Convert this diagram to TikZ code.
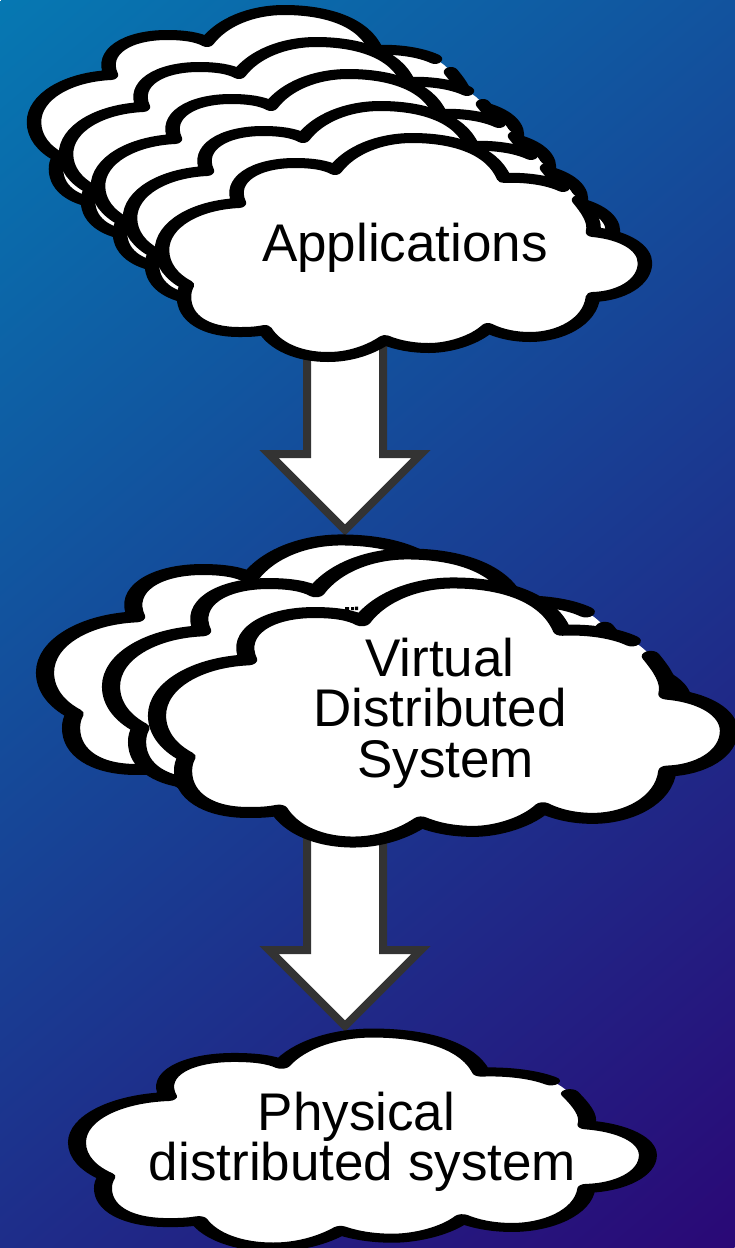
\documentclass[tikz,border=0pt]{standalone}
\usepackage{fontspec}
\setmainfont{Liberation Sans}
\usetikzlibrary{shapes.arrows}
\definecolor{bgstart}{RGB}{6,120,178}
\definecolor{bgend}{RGB}{42,8,118}
\definecolor{arrowline}{RGB}{51,51,51}
\pgfdeclarehorizontalshading{bgshade}{3000pt}{color(0pt)=(bgstart); color(1428pt)=(bgend)}
\tikzset{
  cloudfill/.style={fill=white,draw=none},
  cloudline/.style={draw=black,line width=#1,line join=round,line cap=round},
  blockarrow/.style={single arrow,draw=arrowline,fill=white,line width=8pt,
    minimum width=152pt,single arrow head extend=38pt,single arrow head indent=0pt,
    single arrow tip angle=90,inner sep=34pt,outer sep=0pt,shape border rotate=270,anchor=tip},
  cloudlabel/.style={inner sep=0pt,outer sep=0pt,align=center,text=black,
    font=\fontsize{53}{50.5}\selectfont}
}
% dx dy sx sy linewidth stretch
\newcommand{\cloudshape}[6]{%
  \begin{scope}[transform canvas={xscale=#6},shift={(#1/#6,#2)},xscale=#3/#6,yscale=#4]
    \path[cloudfill] (239,203)
      .. controls (228,180) and (255,163) .. (295,163)
      .. controls (312,163) and (326,165) .. (335,170)
      .. controls (350,150) and (380,138) .. (412,138)
      .. controls (455,138) and (492,150) .. (504,178)
      .. controls (525,177) and (548,180) .. (563,187)
      .. controls (569,190) and (575,195) .. (579,200)
      .. controls (588,211) and (596,222) .. (593,232)
      .. controls (625,235) and (645,248) .. (645,263)
      .. controls (645,282) and (622,296) .. (593,297)
      .. controls (590,322) and (560,337) .. (530,337)
      .. controls (515,337) and (500,334) .. (488,328)
      .. controls (475,340) and (450,348) .. (429,348)
      .. controls (412,348) and (397,345) .. (385,340)
      .. controls (370,350) and (350,357) .. (328,357)
      .. controls (298,357) and (275,346) .. (265,330)
      .. controls (255,332) and (247,332) .. (239,332)
      .. controls (205,332) and (184,318) .. (184,297)
      .. controls (184,292) and (185,289) .. (187,285)
      .. controls (172,277) and (162,265) .. (162,250)
      .. controls (162,225) and (195,205) .. (239,203) -- cycle;
    \path[cloudline=#5] (579,200)
      .. controls (588,211) and (596,222) .. (593,232)
      .. controls (625,235) and (645,248) .. (645,263)
      .. controls (645,282) and (622,296) .. (593,297)
      .. controls (590,322) and (560,337) .. (530,337)
      .. controls (515,337) and (500,334) .. (488,328)
      .. controls (475,340) and (450,348) .. (429,348)
      .. controls (412,348) and (397,345) .. (385,340)
      .. controls (370,350) and (350,357) .. (328,357)
      .. controls (298,357) and (275,346) .. (265,330)
      .. controls (255,332) and (247,332) .. (239,332)
      .. controls (205,332) and (184,318) .. (184,297)
      .. controls (184,292) and (185,289) .. (187,285)
      .. controls (172,277) and (162,265) .. (162,250)
      .. controls (162,225) and (195,205) .. (239,203)
      .. controls (228,180) and (255,163) .. (295,163)
      .. controls (312,163) and (326,165) .. (335,170)
      .. controls (350,150) and (380,138) .. (412,138)
      .. controls (455,138) and (492,150) .. (504,178)
      .. controls (525,177) and (548,180) .. (563,187);
  \end{scope}}
\begin{document}
\begin{tikzpicture}[x=1pt,y=-1pt]
  \useasboundingbox (0,0) rectangle (735,1248);
  \begin{scope}
    \clip (0,0) rectangle (735,1248);
    \node[rotate=-50,inner sep=0pt,outer sep=0pt,anchor=west] (background) at (0,0) {\pgfuseshading{bgshade}};
  \end{scope}

  \node[blockarrow,minimum height=190pt] (arrowone) at (345,530) {};
  \node[blockarrow,minimum height=190pt] (arrowtwo) at (345,1026) {};

  % Applications stack
  \cloudshape{-128}{-128}{1}{1}{10}{1.45}
  \cloudshape{-96}{-96}{1}{1}{10}{1.45}
  \cloudshape{-64}{-64}{1}{1}{10}{1.45}
  \cloudshape{-32}{-32}{1}{1}{10}{1.45}
  \cloudshape{0}{0}{1}{1}{10}{1.45}

  % Virtual stack
  \cloudshape{-146.8}{376.7}{1.184}{1.183}{11}{1.65}
  \cloudshape{-80.8}{390.7}{1.184}{1.183}{11}{1.65}
  \fill[black] (345,607) rectangle (349,610) (351,607) rectangle (354,610) (355,606.5) rectangle (358,610);
  \cloudshape{-34.8}{419.7}{1.184}{1.183}{11}{1.65}

  % Physical
  \cloudshape{-114.5}{898.2}{1.182}{0.977}{9}{2}

  \node[cloudlabel] (applications) at (405,248) {Applications};
  \node[cloudlabel] (virtual) at (440,713) {Virtual\\Distributed\\\hspace*{11pt}System};
  \node[cloudlabel] (physical) at (362.5,1142) {Physical\hspace*{12pt}\\distributed system};
\end{tikzpicture}
\end{document}
